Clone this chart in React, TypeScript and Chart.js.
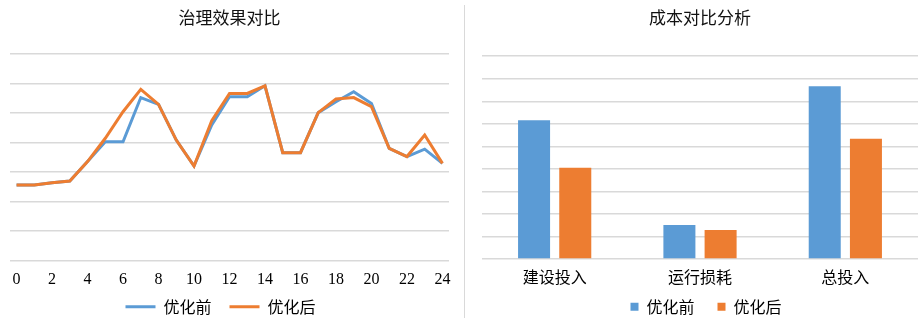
import React, { useEffect, useRef } from 'react';
import { Chart, registerables } from 'chart.js';
Chart.register(...registerables);

const hours = [0, 1, 2, 3, 4, 5, 6, 7, 8, 9, 10, 11, 12, 13, 14, 15, 16, 17, 18, 19, 20, 21, 22, 23, 24];
const effectBefore = [2.57, 2.57, 2.64, 2.7, 3.36, 4.03, 4.03, 5.53, 5.3, 4.09, 3.21, 4.6, 5.56, 5.56, 5.93, 3.66, 3.66, 5.02, 5.39, 5.73, 5.33, 3.81, 3.53, 3.78, 3.3];
const effectAfter = [2.57, 2.57, 2.64, 2.7, 3.36, 4.15, 5.05, 5.81, 5.3, 4.09, 3.21, 4.75, 5.67, 5.67, 5.93, 3.66, 3.66, 5.02, 5.48, 5.53, 5.22, 3.81, 3.53, 4.26, 3.3];
const hourTicks = [0, 2, 4, 6, 8, 10, 12, 14, 16, 18, 20, 22, 24];

const costCategories = ['建设投入', '运行损耗', '总投入'];
const costBefore = [6.16, 1.51, 7.67];
const costAfter = [4.05, 1.29, 5.34];

const seriesNames = ['优化前', '优化后'];
const BLUE = '#5B9BD5';
const ORANGE = '#ED7D31';
const GRID = '#D9D9D9';
const FONT = '"Liberation Serif", "Noto Sans CJK SC", serif';
const CJK = '"Noto Sans CJK SC", "Liberation Serif", sans-serif';

const shiftLegend = (dx: number) => ({
  id: 'shiftLegend',
  afterLayout(chart: any) {
    const l = chart.legend;
    if (l) {
      l.left += dx;
      l.right += dx;
    }
  },
});

// shrink the x axis box (labels may overhang into the legend band) without clipping its labels
const compactAxis = (h: number) => (scale: any) => {
  scale.height = h;
  scale._computeLabelArea = () => undefined;
};

function LineChart() {
  const ref = useRef<HTMLCanvasElement>(null);
  useEffect(() => {
    const chart = new Chart(ref.current!, {
      type: 'line',
      data: {
        datasets: [
          {
            label: seriesNames[0],
            data: hours.map((h, i) => ({ x: h, y: effectBefore[i] })),
            borderColor: BLUE,
            backgroundColor: BLUE,
            borderWidth: 3,
            pointRadius: 0,
            tension: 0,
            order: 1,
          },
          {
            label: seriesNames[1],
            data: hours.map((h, i) => ({ x: h, y: effectAfter[i] })),
            borderColor: ORANGE,
            backgroundColor: ORANGE,
            borderWidth: 3,
            pointRadius: 0,
            tension: 0,
            order: 0,
          },
        ],
      },
      options: {
        responsive: false,
        animation: false,
        layout: { padding: { left: 10, right: 15, top: 5, bottom: -1.7 } },
        scales: {
          x: {
            type: 'linear',
            min: -0.37,
            max: 24.37,
            afterBuildTicks: (axis: any) => {
              axis.ticks = hourTicks.map((v) => ({ value: v }));
            },
            afterFit: compactAxis(20),
            grid: { display: false, drawTicks: false },
            border: { display: false },
            ticks: {
              autoSkip: false,
              maxRotation: 0,
              padding: 9,
              color: '#000',
              font: { family: FONT, size: 16 },
            },
          },
          y: {
            min: 0,
            max: 7,
            ticks: { display: false, stepSize: 1 },
            grid: { color: GRID, lineWidth: 1.5, drawTicks: false },
            border: { display: false },
          },
        },
        plugins: {
          title: {
            display: true,
            text: '治理效果对比',
            color: '#111',
            font: { family: CJK, size: 17, weight: 'normal' },
            padding: { top: 2, bottom: 26.8 },
          },
          legend: {
            position: 'bottom',
            labels: {
              boxWidth: 30,
              boxHeight: 3,
              padding: 18,
              color: '#000',
              font: { family: CJK, size: 16 },
              sort: (a: any, b: any) => a.datasetIndex - b.datasetIndex,
              generateLabels: (c: any) =>
                Chart.defaults.plugins.legend.labels
                  .generateLabels(c)
                  .map((l: any) => ({ ...l, fillStyle: l.strokeStyle, lineWidth: 0 })),
            },
          },
          tooltip: { enabled: false },
        },
      },
      plugins: [shiftLegend(-9)],
    } as any);
    return () => chart.destroy();
  }, []);
  return <canvas ref={ref} width={464} height={323} style={{ position: 'absolute', left: 0, top: 0 }} />;
}

function BarChart() {
  const ref = useRef<HTMLCanvasElement>(null);
  useEffect(() => {
    const chart = new Chart(ref.current!, {
      type: 'bar',
      data: {
        labels: costCategories,
        datasets: [
          {
            label: seriesNames[0],
            data: costBefore,
            backgroundColor: BLUE,
            categoryPercentage: 0.567,
            barPercentage: 0.777,
          },
          {
            label: seriesNames[1],
            data: costAfter,
            backgroundColor: ORANGE,
            categoryPercentage: 0.567,
            barPercentage: 0.777,
          },
        ],
      },
      options: {
        responsive: false,
        animation: false,
        layout: { padding: { left: 16, right: 4, top: 5, bottom: -1.7 } },
        scales: {
          x: {
            afterFit: compactAxis(16.7),
            grid: { display: false, drawTicks: false },
            border: { display: false },
            ticks: {
              padding: 8,
              color: '#000',
              font: { family: CJK, size: 16 },
            },
          },
          y: {
            min: 0,
            max: 9,
            ticks: { display: false, stepSize: 1 },
            grid: { color: GRID, lineWidth: 1.5, drawTicks: false },
            border: { display: false },
          },
        },
        plugins: {
          title: {
            display: true,
            text: '成本对比分析',
            color: '#111',
            font: { family: CJK, size: 17, weight: 'normal' },
            padding: { top: 2, bottom: 28.8 },
          },
          legend: {
            position: 'bottom',
            labels: {
              boxWidth: 8,
              boxHeight: 8,
              padding: 23,
              color: '#000',
              font: { family: CJK, size: 16 },
            },
          },
          tooltip: { enabled: false },
        },
      },
      plugins: [shiftLegend(6)],
    } as any);
    return () => chart.destroy();
  }, []);
  return <canvas ref={ref} width={456} height={323} style={{ position: 'absolute', left: 466, top: 0 }} />;
}

export default function App() {
  return (
    <div style={{ position: 'absolute', left: 0, top: 0, width: 922, height: 323, background: '#fff', overflow: 'hidden' }}>
      <LineChart />
      <div style={{ position: 'absolute', left: 464, top: 5, width: 1, height: 313, background: GRID }} />
      <BarChart />
    </div>
  );
}
